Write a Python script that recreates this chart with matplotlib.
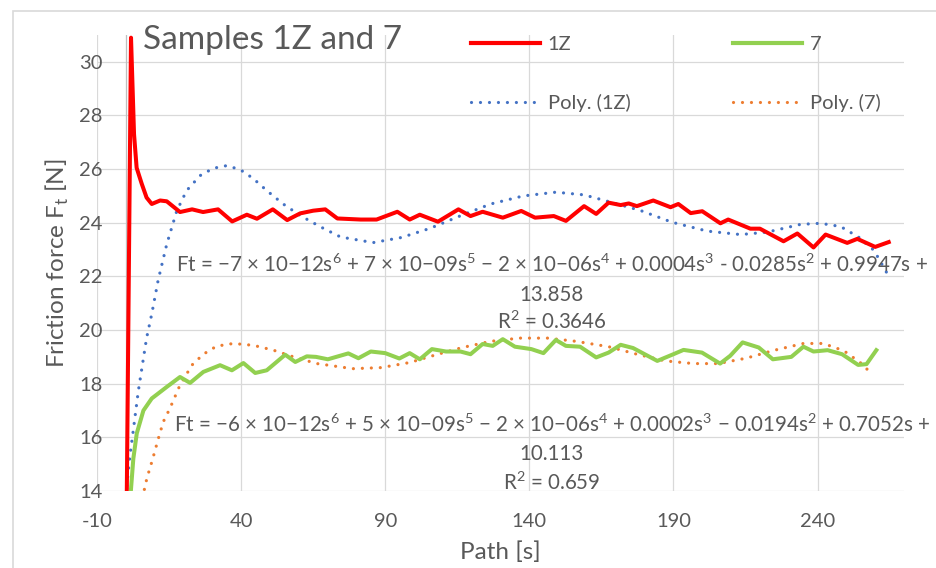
import matplotlib
matplotlib.use("Agg")
import matplotlib.pyplot as plt
from matplotlib.lines import Line2D
from matplotlib.patches import Rectangle

plt.rcParams['font.family'] = ['Lato', 'DejaVu Sans']
plt.rcParams['axes.unicode_minus'] = False

# sample 1Z - measured friction force
path_1z = [0, 1.8, 2.85, 3.75, 5.5, 7.2, 9.0, 11.9, 14.2, 16.5, 18.8, 23.0, 26.8, 32.0, 36.9,
           42.0, 45.5, 51.0, 56.0, 60.5, 65.0, 69.2, 73.4, 81.5, 87.0, 94.2, 98.5, 102.0, 108.3,
           115.4, 119.6, 123.8, 130.8, 137.2, 142.0, 148.5, 152.7, 159.0, 163.2, 167.5, 171.7,
           174.5, 177.3, 183.0, 189.0, 191.7, 196.0, 200.0, 206.3, 209.0, 216.7, 220.0, 228.2,
           233.0, 238.6, 242.8, 250.3, 253.8, 260.0, 264.7]
force_1z = [10.0, 30.9, 27.3, 26.05, 25.46, 24.94, 24.7, 24.83, 24.8, 24.6, 24.4, 24.5, 24.4, 24.5,
            24.05, 24.3, 24.15, 24.5, 24.1, 24.35, 24.45, 24.5, 24.16, 24.12, 24.12, 24.41, 24.12,
            24.3, 24.04, 24.5, 24.25, 24.41, 24.19, 24.44, 24.19, 24.25, 24.07, 24.62, 24.33, 24.75,
            24.66, 24.72, 24.62, 24.83, 24.58, 24.7, 24.36, 24.43, 23.98, 24.12, 23.78, 23.78, 23.31,
            23.6, 23.08, 23.56, 23.25, 23.4, 23.1, 23.28]

# sample 7 - measured friction force
path_7 = [0.8, 1.7, 2.6, 3.8, 6.1, 9.0, 14.2, 18.8, 22.3, 26.9, 32.7, 36.8, 40.8, 44.9, 48.9, 55.3,
          58.8, 62.8, 66.0, 70.1, 77.2, 80.7, 85.0, 90.0, 94.9, 98.5, 102.0, 106.2, 111.1, 116.1,
          119.6, 123.8, 127.3, 130.8, 135.0, 140.7, 144.9, 149.2, 152.7, 157.6, 163.2, 167.5,
          171.7, 176.0, 184.4, 190.0, 193.5, 199.9, 206.2, 209.7, 214.0, 219.6, 224.5, 230.9,
          235.1, 238.6, 243.5, 248.5, 254.1, 257.0, 260.4]
force_7 = [12.5, 13.94, 15.2, 16.15, 17.0, 17.45, 17.88, 18.25, 18.03, 18.44, 18.69, 18.5, 18.77,
           18.4, 18.5, 19.08, 18.81, 19.02, 19.0, 18.91, 19.13, 18.95, 19.2, 19.14, 18.94, 19.14,
           18.91, 19.29, 19.2, 19.2, 19.1, 19.48, 19.41, 19.66, 19.38, 19.29, 19.14, 19.63, 19.41,
           19.38, 18.98, 19.16, 19.45, 19.33, 18.85, 19.1, 19.26, 19.16, 18.75, 19.04, 19.54, 19.35,
           18.91, 19.0, 19.38, 19.2, 19.25, 19.1, 18.7, 18.73, 19.25]

# 6th order polynomial trend lines
trend_path_1z = [0, 1.46, 2.6, 4.3, 7.2, 9.0, 11.2, 14.2, 17.7, 21.1, 25.8, 30.3, 35.0, 39.7, 44.2,
                 48.9, 54.6, 60.5, 67.5, 74.5, 85.8, 95.6, 105.5, 116.8, 126.6, 137.9, 149.2, 159.0,
                 167.5, 178.5, 189.5, 201.7, 213.3, 222.5, 234.1, 241.0, 248.0, 254.3, 259.6, 264.2]
trend_force_1z = [13.86, 15.34, 16.27, 17.7, 19.7, 20.6, 21.85, 23.2, 24.45, 25.2, 25.76, 26.03,
                  26.13, 25.98, 25.65, 25.2, 24.7, 24.27, 23.85, 23.47, 23.26, 23.45, 23.79, 24.29,
                  24.7, 25.0, 25.14, 25.04, 24.79, 24.46, 24.02, 23.69, 23.56, 23.65, 23.94, 23.98,
                  23.86, 23.46, 22.97, 22.1]

trend_path_7 = [0, 6.7, 7.8, 9.2, 11.3, 13.0, 15.3, 18.6, 22.9, 26.9, 31.5, 37.3, 44.3, 51.2, 58.2,
                66.3, 78.7, 88.6, 98.5, 108.3, 116.8, 126.6, 136.5, 146.3, 156.2, 167.5, 177.3,
                187.2, 197.0, 205.5, 215.2, 225.1, 235.1, 242.0, 249.1, 254.8, 259.0]
trend_force_7 = [10.11, 14.22, 14.65, 15.15, 15.96, 16.58, 17.08, 17.9, 18.69, 19.1, 19.4, 19.5,
                 19.43, 19.25, 19.0, 18.75, 18.56, 18.6, 18.79, 19.1, 19.35, 19.58, 19.7, 19.7,
                 19.58, 19.38, 19.1, 18.85, 18.75, 18.75, 18.95, 19.25, 19.5, 19.5, 19.23, 18.79,
                 18.35]


def sup(n):
    return "$^{\\mathregular{%s}}$" % n


M = "\u2212"
eq_1z = ["Ft = " + M + "7 \u00d7 10" + M + "12s" + sup(6) + " + 7 \u00d7 10" + M + "09s" + sup(5)
         + " " + M + " 2 \u00d7 10" + M + "06s" + sup(4) + " + 0.0004s" + sup(3)
         + " - 0.0285s" + sup(2) + " + 0.9947s +",
         "13.858",
         "R" + sup(2) + " = 0.3646"]
eq_7 = ["Ft = " + M + "6 \u00d7 10" + M + "12s" + sup(6) + " + 5 \u00d7 10" + M + "09s" + sup(5)
        + " " + M + " 2 \u00d7 10" + M + "06s" + sup(4) + " + 0.0002s" + sup(3)
        + " " + M + " 0.0194s" + sup(2) + " + 0.7052s +",
        "10.113",
        "R" + sup(2) + " = 0.659"]
eq_rows_1z = [265, 295, 322]
eq_rows_7 = [425, 454, 483]

text_grey = '#595959'
grid_grey = '#d9d9d9'
W, H = 937, 568

fig = plt.figure(figsize=(W / 100, H / 100), dpi=100)
ax = fig.add_axes([97 / W, 1 - 491 / H, (904 - 97) / W, (491 - 35) / H])

ax.set_xlim(-10, 270)
ax.set_ylim(14, 31)
ax.set_xticks(range(-10, 241, 50))
ax.set_yticks(range(14, 31, 2))
ax.grid(True, color=grid_grey, linewidth=0.9)
ax.set_axisbelow(True)
for s in ax.spines.values():
    s.set_visible(False)
ax.axvline(0, color='#bfbfbf', linewidth=0.9, zorder=1)
ax.tick_params(length=0, labelsize=14.5, labelcolor=text_grey)
ax.tick_params(axis='y', pad=-4)
ax.tick_params(axis='x', pad=16)

dots = (0, (0.01, 2.8))
ax.plot(trend_path_1z, trend_force_1z, color='#4472c4', lw=2.3, linestyle=dots,
        dash_capstyle='round', zorder=3)
ax.plot(trend_path_7, trend_force_7, color='#ed7d31', lw=2.3, linestyle=dots,
        dash_capstyle='round', zorder=3)
ax.plot(path_1z, force_1z, color='#ff0000', lw=2.9, solid_joinstyle='round', zorder=4)
ax.plot(path_7, force_7, color='#92d050', lw=2.9, solid_joinstyle='round', zorder=4)

ax.set_xlabel("Path [s]", fontsize=17.5, color=text_grey)
ax.xaxis.set_label_coords(0.5, -(552 - 491) / (491 - 35), transform=ax.transAxes)
ax.xaxis.label.set_va('center')
ax.set_ylabel("Friction force F$_\\mathregular{t}$ [N]", fontsize=17.5, color=text_grey)
ax.yaxis.set_label_coords(-(97 - 57) / (904 - 97), 0.5, transform=ax.transAxes)
ax.yaxis.label.set_va('center')

fig.text(143 / W, 1 - 40 / H, "Samples 1Z and 7", fontsize=24, color=text_grey,
         ha='left', va='center')

# trend line equations, one text per row
for lines, rows in [(eq_1z, eq_rows_1z), (eq_7, eq_rows_7)]:
    for line, y in zip(lines, rows):
        fig.text(552 / W, 1 - y / H, line, fontsize=14.8, color=text_grey,
                 ha='center', va='center')

handles = [
    Line2D([0], [0], color='#ff0000', lw=3),
    Line2D([0], [0], color='#4472c4', lw=2.3, linestyle=dots, dash_capstyle='round'),
    Line2D([0], [0], color='#92d050', lw=3),
    Line2D([0], [0], color='#ed7d31', lw=2.3, linestyle=dots, dash_capstyle='round'),
]
labels = ['1Z', 'Poly. (1Z)', '7', 'Poly. (7)']
leg = fig.legend(handles, labels, ncol=2, frameon=False, fontsize=14.5,
                 loc='upper left', bbox_to_anchor=(455 / W, 1 - 20 / H),
                 handlelength=3.4, handletextpad=0.4, columnspacing=5.1,
                 labelspacing=2.0, borderpad=0.3)
for t in leg.get_texts():
    t.set_color(text_grey)

# chart area border
fig.add_artist(Rectangle((13 / W, -0.5), 2, 1.5 - 11 / H, fill=False,
                         edgecolor=grid_grey, linewidth=1.2, transform=fig.transFigure))

fig.savefig("out.png", dpi=100)
